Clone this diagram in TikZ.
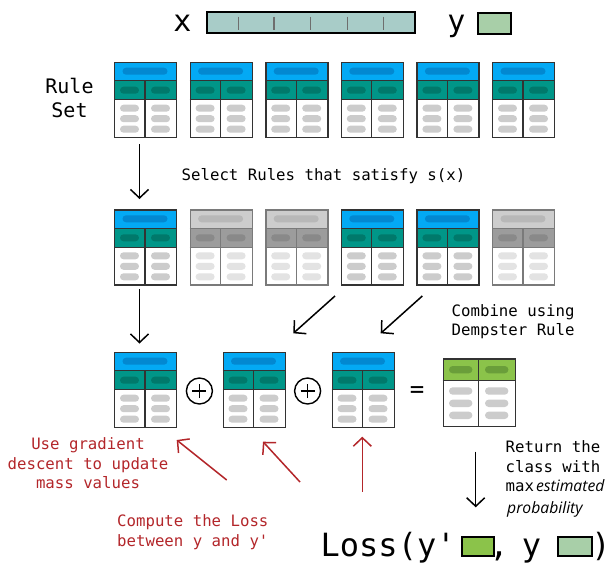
\documentclass[tikz,border=0pt]{standalone}
\usepackage{fontspec}
\setmainfont{DejaVu Sans Mono}
\newfontfamily\itsans{Open Sans}
\usetikzlibrary{arrows.meta}

% active rule colours
\definecolor{onhdr}{HTML}{03A9F4}
\definecolor{onhdrpill}{HTML}{0288D1}
\definecolor{onrow}{HTML}{009688}
\definecolor{onrowpill}{HTML}{00796B}
\definecolor{onbodypill}{HTML}{CCCCCC}
\definecolor{onframe}{HTML}{333333}
% inactive (filtered out) rule colours
\definecolor{offhdr}{HTML}{CDCDCD}
\definecolor{offhdrpill}{HTML}{B8B8B8}
\definecolor{offrow}{HTML}{9C9C9C}
\definecolor{offrowpill}{HTML}{898989}
\definecolor{offbodypill}{HTML}{E3E3E3}
\definecolor{offframe}{HTML}{7A7A7A}
% others
\definecolor{resgreen}{HTML}{8BC34A}
\definecolor{resgreenpill}{HTML}{6A9E3A}
\definecolor{ylight}{HTML}{A8CFA8}
\definecolor{xfill}{HTML}{A8CCC8}
\definecolor{tickgrey}{HTML}{6E6E6E}
\definecolor{notered}{HTML}{B3262A}

% one rule table: #1 name, #2 x, #3 y (top left), #4 on/off
\newcommand\ruletable[4]{%
  \begin{scope}[shift={(#2,#3)}]
    \fill[#4hdr] (0,0) rectangle (62,19);
    \fill[#4row] (0,19) rectangle (62,38);
    \fill[white] (0,38) rectangle (62,75);
    \fill[#4hdrpill, rounded corners=3.5pt] (8.5,6) rectangle (53.5,13);
    \foreach \cx in {15.5,46.5}{
      \fill[#4rowpill, rounded corners=3.5pt] (\cx-9.5,25) rectangle (\cx+9.5,32);
      \foreach \cy in {46.5,57,67.5}
        \fill[#4bodypill, rounded corners=3.5pt] (\cx-9.5,\cy-3.5) rectangle (\cx+9.5,\cy+3.5);
    }
    \draw[#4frame, line width=1.3pt] (0,19) -- (62,19) (0,38) -- (62,38) (31,19) -- (31,75);
    \node[draw=#4frame, line width=1.3pt, minimum width=62pt, minimum height=75pt,
          inner sep=0, anchor=north west] (#1) at (0,0) {};
  \end{scope}}

\tikzset{
  txt/.style={inner sep=0, font=\fontsize{15.7}{19}\selectfont},
  redtxt/.style={txt, text=notered},
  flow/.style={line width=1.5pt, -{Straight Barb[length=8.5pt,width=18pt]}},
  redflow/.style={flow, draw=notered},
  oplus/.style={circle, draw, line width=1.4pt, minimum size=26pt, inner sep=0},
  swatch/.style={draw, line width=2pt, inner sep=0}
}

\begin{document}
\begin{tikzpicture}[x=1pt,y=-1pt]
\useasboundingbox (0,0) rectangle (613,563);

% input x and label y
\node[inner sep=0, anchor=base, font=\fontsize{30}{30}\selectfont] (xlab) at (182.5,31.5) {x};
\node[swatch, fill=xfill, minimum width=207.7pt, minimum height=21.6pt] (xbar) at (311.2,22.5) {};
\foreach \tx in {238.3,274,310.7,347.3,383.3}
  \draw[tickgrey, line width=1.4pt] (\tx,16.7) -- (\tx,30);
\node[inner sep=0, anchor=base, font=\fontsize{30}{30}\selectfont] (ylab) at (456.5,31) {y};
\node[swatch, fill=ylight, minimum width=33.3pt, minimum height=21.6pt] (ybox) at (494.4,23.5) {};

% rule set
\node[inner sep=0, anchor=base, font=\fontsize{20}{24}\selectfont] (rs1) at (69.5,93) {Rule};
\node[inner sep=0, anchor=base, font=\fontsize{20}{24}\selectfont] (rs2) at (69.5,117) {Set};
\ruletable{a1}{114}{61.7}{on}
\ruletable{a2}{189.6}{61.7}{on}
\ruletable{a3}{265.2}{61.7}{on}
\ruletable{a4}{340.8}{61.7}{on}
\ruletable{a5}{416.4}{61.7}{on}
\ruletable{a6}{492}{61.7}{on}

\node[txt, anchor=base west] (sel) at (181.5,180) {Select Rules that satisfy s(x)};

% selected rules
\ruletable{b1}{114}{209.3}{on}
\ruletable{b2}{189.6}{209.3}{off}
\ruletable{b3}{265.2}{209.3}{off}
\ruletable{b4}{340.8}{209.3}{on}
\ruletable{b5}{416.4}{209.3}{on}
\ruletable{b6}{492}{209.3}{off}

\node[txt, anchor=base west] (comb1) at (451.5,316) {Combine using};
\node[txt, anchor=base west] (comb2) at (451.5,335) {Dempster Rule};

% combination
\ruletable{c1}{114}{351.7}{on}
\ruletable{c2}{222.5}{351.7}{on}
\ruletable{c3}{331.5}{351.7}{on}
\node[oplus] (op1) at (199.4,391) {};
\node[oplus] (op2) at (307.6,391) {};
\foreach \o in {op1,op2}
  \draw[line width=1.3pt] ([xshift=-7pt]\o.center) -- ([xshift=7pt]\o.center)
                          ([yshift=-7pt]\o.center) -- ([yshift=7pt]\o.center);
\node[inner sep=0, anchor=center, font=\fontsize{24}{24}\selectfont] (eq) at (417,392) {=};

% combined result
\begin{scope}[shift={(442.7,358.3)}]
  \fill[resgreen] (0,0) rectangle (72,22.4);
  \fill[white] (0,22.4) rectangle (72,67.4);
  \foreach \cx in {18,54}{
    \fill[resgreenpill, rounded corners=3.6pt] (\cx-11.7,7.7) rectangle (\cx+11.7,15);
    \foreach \cy in {32.7,45,57}
      \fill[onbodypill, rounded corners=3.7pt] (\cx-11.7,\cy-3.7) rectangle (\cx+11.7,\cy+3.7);
  }
  \draw[onframe, line width=1.3pt] (0,22.4) -- (72,22.4) (36,0) -- (36,67.4);
  \node[draw=onframe, line width=1.3pt, minimum width=72pt, minimum height=67.4pt,
        inner sep=0, anchor=north west] (res) at (0,0) {};
\end{scope}

% flow arrows
\coordinate (f1s) at (139.5,144);  \coordinate (f1e) at (139.5,199);
\coordinate (f2s) at (139.5,289);  \coordinate (f2e) at (139.5,343.5);
\coordinate (f3s) at (335,296);    \coordinate (f3e) at (293.3,333.3);
\coordinate (f4s) at (422.3,296);  \coordinate (f4e) at (380.7,333.3);
\coordinate (f5s) at (475.7,451.7); \coordinate (f5e) at (475.7,507.3);
\draw[flow] (f1s) -- (f1e);
\draw[flow] (f2s) -- (f2e);
\draw[flow] (f3s) -- (f3e);
\draw[flow] (f4s) -- (f4e);
\draw[flow] (f5s) -- (f5e);

% returning the class
\node[txt, anchor=base west] (ret1) at (505.5,452.3) {Return the};
\node[txt, anchor=base west] (ret2) at (505.5,472.3) {class with};
\node[txt, anchor=base west] (ret3) at (505.5,491.7) {max\kern2pt{\itsans\itshape estimated}};
\node[txt, anchor=base west] (ret4) at (507,513) {\itsans\itshape probability};

% loss
\node[inner sep=0, anchor=base west, font=\fontsize{32}{32}\selectfont] (loss) at (320.5,556.7) {Loss(y\textquotesingle};
\node[swatch, fill=resgreen, minimum width=32.3pt, minimum height=18.7pt] (ypred) at (477.9,546.7) {};
\node[inner sep=0, anchor=base, font=\fontsize{32}{32}\selectfont] (comma) at (499,556.7) {,};
\node[inner sep=0, anchor=base, font=\fontsize{32}{32}\selectfont] (ytrue) at (531.5,556.7) {y};
\node[swatch, fill=ylight, minimum width=33.3pt, minimum height=18.7pt] (ybox2) at (575,546.7) {};
\node[inner sep=0, anchor=base, font=\fontsize{32}{32}\selectfont] (rpar) at (601,556.7) {)};

% learning notes
\node[redtxt, anchor=base] (g1) at (88,449.3) {Use gradient};
\node[redtxt, anchor=base] (g2) at (88,469.3) {descent to update};
\node[redtxt, anchor=base] (g3) at (88,488.5) {mass values};
\node[redtxt, anchor=base west] (l1) at (117,526) {Compute the Loss};
\node[redtxt, anchor=base west] (l2) at (117,546) {between y and y\textquotesingle};

\coordinate (r1s) at (226.7,480);  \coordinate (r1e) at (176.7,440);
\coordinate (r2s) at (300,482);    \coordinate (r2e) at (263,441.7);
\coordinate (r3s) at (362.3,491.7); \coordinate (r3e) at (362.3,436.7);
\draw[redflow] (r1s) -- (r1e);
\draw[redflow] (r2s) -- (r2e);
\draw[redflow] (r3s) -- (r3e);
\end{tikzpicture}
\end{document}
